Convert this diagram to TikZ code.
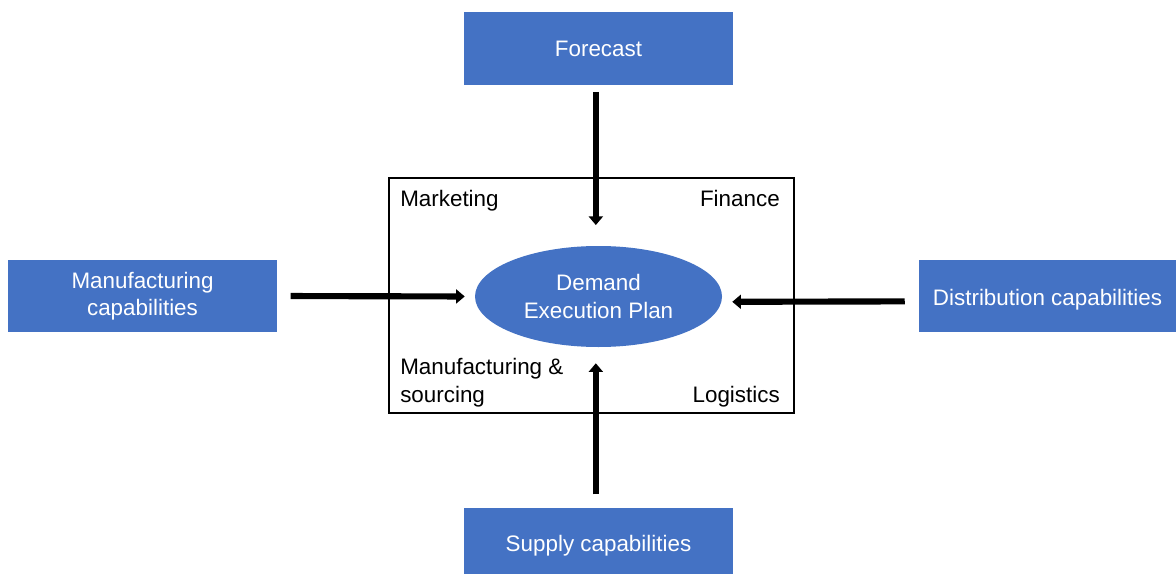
\documentclass[tikz,border=0pt]{standalone}
\usepackage{fontspec}
\setmainfont{Liberation Sans}
\usetikzlibrary{arrows.meta,shapes.geometric,positioning}
\definecolor{boxblue}{HTML}{4472C4}
\tikzset{
  bluebox/.style={draw=none, fill=boxblue, text=white, align=center, inner sep=0pt,
    font=\fontsize{16.8}{20.5}\selectfont},
  lbl/.style={inner sep=0pt, font=\fontsize{16.8}{20.5}\selectfont, align=left},
  arr/.style={line width=4.6pt, -{Triangle[width=10.5pt,length=6.5pt]}},
}
\begin{document}
\begin{tikzpicture}[x=0.75pt,y=-0.75pt]
\useasboundingbox (0,0) rectangle (1176,574);
\fill[white] (0,0) rectangle (1176,574);
% frame
\node[draw, line width=1.1pt, minimum width=405*0.75pt, minimum height=235*0.75pt, inner sep=0pt] (frame) at (591.5,295.5) {};
% boxes
\node[bluebox, minimum width=269*0.75pt, minimum height=73*0.75pt] (fc) at (598.5,48.5) {Forecast};
\node[bluebox, minimum width=269*0.75pt, minimum height=72*0.75pt] (mc) at (142.5,296) {Manufacturing\\capabilities};
\node[bluebox, minimum width=257*0.75pt, minimum height=72*0.75pt, text depth=0pt] (dc) at (1047.5,296) {\raisebox{-2.5pt}{Distribution capabilities}};
\node[bluebox, minimum width=269*0.75pt, minimum height=66*0.75pt, text depth=0pt] (sc) at (598.5,541) {\raisebox{-4pt}{Supply capabilities}};
% ellipse
\node[ellipse, fill=boxblue, text=white, minimum width=247*0.75pt, minimum height=101*0.75pt, inner sep=0pt, align=center,
  font=\fontsize{16.8}{21.5}\selectfont] (dep) at (598.5,296.5) {Demand\\Execution Plan};
% corner labels
\node[lbl, anchor=base west] (mkt) at (400,206) {Marketing};
\node[lbl, anchor=base east] (fin) at (780,206) {Finance};
\node[lbl, anchor=base west] (mfs) at (400,402) {Manufacturing \&\\sourcing};
\node[lbl, anchor=base east] (log) at (780,402) {Logistics};
% arrows
\draw[arr, shorten <=5pt, shorten >=15.5pt] ([xshift=-2pt]fc.south) -- ([xshift=-2pt]dep.north);
\draw[arr, shorten <=10pt, shorten >=12pt] ([xshift=-2pt]sc.north) -- ([xshift=-2pt]dep.south);
\draw[arr, shorten <=10pt, shorten >=7.5pt] (mc.east) -- (dep.west);
\draw[arr, shorten <=10.5pt, shorten >=7.5pt] ([yshift=-4pt]dc.west) -- ([yshift=-4pt]dep.east);
\end{tikzpicture}
\end{document}
